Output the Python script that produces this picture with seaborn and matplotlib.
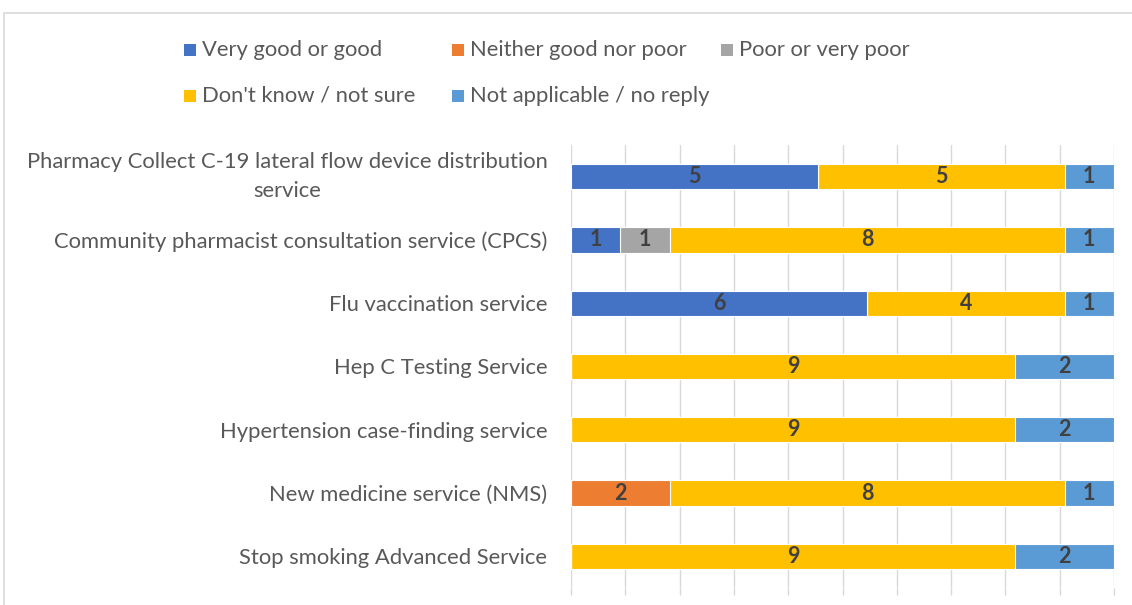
import matplotlib
matplotlib.use("Agg")
import matplotlib.pyplot as plt
from matplotlib.patches import Rectangle
import numpy as np
import pandas as pd
import seaborn as sns

services = [
    "Pharmacy Collect C-19 lateral flow device distribution\nservice",
    "Community pharmacist consultation service (CPCS)",
    "Flu vaccination service",
    "Hep C Testing Service",
    "Hypertension case-finding service",
    "New medicine service (NMS)",
    "Stop smoking Advanced Service",
]
responses = [
    "Very good or good",
    "Neither good nor poor",
    "Poor or very poor",
    "Don't know / not sure",
    "Not applicable / no reply",
]
very_good = [5, 1, 6, 0, 0, 0, 0]
neither = [0, 0, 0, 0, 0, 2, 0]
poor = [0, 1, 0, 0, 0, 0, 0]
dont_know = [5, 8, 4, 9, 9, 8, 9]
not_applicable = [1, 1, 1, 2, 2, 1, 2]
colors = ["#4472C4", "#ED7D31", "#A5A5A5", "#FFC000", "#5B9BD5"]

counts = np.array([very_good, neither, poor, dont_know, not_applicable], dtype=float)
totals = counts.sum(axis=0)
shares = counts / totals
cum = np.cumsum(shares, axis=0)

sns.set_theme(style="white")
plt.rcParams["font.family"] = ["Lato", "DejaVu Sans"]

fig = plt.figure(figsize=(11.32, 6.05), dpi=100)
ax = fig.add_axes([571 / 1132, 1 - 588 / 605, (1114 - 571) / 1132, (588 - 145) / 605])

# stacked bars: draw cumulative extents from the outermost segment inward
for i in range(len(responses) - 1, -1, -1):
    df = pd.DataFrame({"service": services, "end": cum[i]})
    sns.barplot(data=df, x="end", y="service", orient="h", color=colors[i],
                width=0.4, saturation=1, ax=ax, linewidth=0.8, edgecolor="white")

# value labels centred in each segment
for i in range(len(responses)):
    for j in range(len(services)):
        if counts[i, j] > 0:
            centre = cum[i, j] - shares[i, j] / 2
            ax.text(centre, j, f"{int(counts[i, j])}", ha="center", va="center",
                    fontsize=15.5, fontweight="bold", color="#404040")

ax.set_xlim(0, 1)
ax.set_ylim(len(services) - 0.5, -0.5)
ax.set_xticks(np.linspace(0, 1, 11))
ax.set_xticklabels([])
ax.grid(axis="x", color="#D9D9D9", linewidth=1)
ax.set_axisbelow(True)
ax.tick_params(axis="x", length=5, color="#D9D9D9", width=1, direction="out", bottom=True)
ax.tick_params(axis="y", length=0, pad=17, labelsize=15.8, labelcolor="#595959")
for lbl in ax.get_yticklabels():
    lbl.set_multialignment("center")
    lbl.set_linespacing(1.6)
    if "\n" in lbl.get_text():
        lbl.set_verticalalignment("center")
for s in ax.spines.values():
    s.set_visible(False)
ax.set_xlabel("")
ax.set_ylabel("")

# legend laid out in two rows of fixed-width columns
legend_pos = [(184, 50), (452, 50), (721, 50), (184, 96), (452, 96)]
for (x, y), name, c in zip(legend_pos, responses, colors):
    fig.patches.append(Rectangle((x / 1132, 1 - (y + 6) / 605), 12 / 1132, 12 / 605,
                                 transform=fig.transFigure, facecolor=c, edgecolor="none"))
    fig.text((x + 18) / 1132, 1 - y / 605, name, ha="left", va="center",
             fontsize=15.8, color="#595959")

# chart area border
fig.patches.append(Rectangle((4 / 1132, -0.05), 1.1, 1 - 13 / 605 + 0.05,
                             transform=fig.transFigure, facecolor="none",
                             edgecolor="#D9D9D9", linewidth=1.2))

fig.savefig("out.png", dpi=100)
